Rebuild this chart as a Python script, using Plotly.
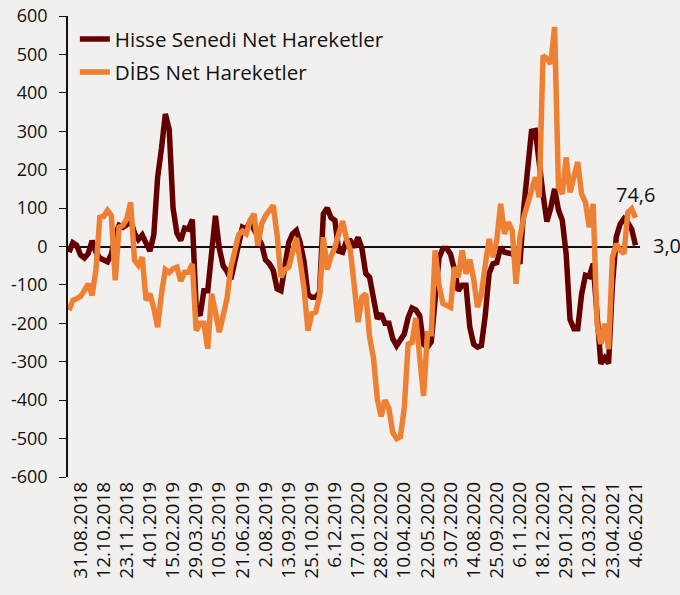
import pandas as pd
import plotly.graph_objects as go

# Weekly dates (Fridays), first observation 10.08.2018, last 4.06.2021 (148 weeks)
dates = pd.date_range("2018-08-10", periods=148, freq="7D")

hisse = [
    -15, 10, 3, -22, -30, -18, 15, -15, -30, -35,
    -40, -20, 30, 55, 50, 57, 68, 35, 18, 30,
    5, -12, 30, 180, 255, 345, 305, 100, 35, 16,
    48, 45, 70, -160, -180, -115, -115, -20, 80, -5,
    -50, -65, -85, -40, 0, 50, 45, 65, 45, 25,
    5, -35, -45, -62, -110, -115, -50, 10, 33, 42,
    10, -40, -125, -132, -132, -120, 85, 100, 75, 68,
    -12, -15, 15, 15, -2, 24, -5, -70, -80, -140,
    -188, -175, -200, -200, -240, -258, -240, -228, -185, -160,
    -165, -180, -255, -262, -248, -150, -30, -5, -5, -20,
    -60, -115, -101, -101, -210, -254, -262, -258, -180, -70,
    -45, -42, -2, -15, -17, -19, -30, -45, 100, 220,
    300, 302, 205, 135, 65, 100, 150, 95, 68, -20,
    -190, -214, -214, -125, -75, -78, -45, -190, -305, -290,
    -304, -100, 25, 58, 72, 62, 45, 3.0,
]

dibs = [
    -166, -140, -136, -130, -115, -97, -127, -60, 76, 78,
    94, 80, -88, 50, 55, 72, 115, -36, -49, -28,
    -140, -123, -160, -210, -123, -60, -68, -58, -54, -90,
    -67, -67, -45, -219, -200, -200, -266, -123, -171, -223,
    -180, -135, -55, -5, 30, 40, 33, 68, 85, 2,
    59, 80, 95, 107, 30, -80, -60, -54, -15, 22,
    -40, -110, -219, -175, -171, -130, 24, -60, -25, -2,
    33, 66, 20, -10, -100, -197, -132, -123, -236, -290,
    -397, -442, -400, -421, -484, -500, -495, -420, -254, -250,
    -186, -280, -389, -227, -227, -10, -100, -148, -155, -158,
    -54, -80, -10, -71, -34, -85, -158, -123, -50, 20,
    -28, 16, 111, 33, 63, 42, -97, 24, 76, 111,
    154, 180, 128, 497, 488, 476, 571, 154, 137, 232,
    141, 189, 220, 137, 115, 50, 111, -201, -254, -201,
    -267, -28, 7, -10, -19, 89, 98, 74.6,
]

tick_labels = [
    "31.08.2018", "12.10.2018", "23.11.2018", "4.01.2019", "15.02.2019",
    "29.03.2019", "10.05.2019", "21.06.2019", "2.08.2019", "13.09.2019",
    "25.10.2019", "6.12.2019", "17.01.2020", "28.02.2020", "10.04.2020",
    "22.05.2020", "3.07.2020", "14.08.2020", "25.09.2020", "6.11.2020",
    "18.12.2020", "29.01.2021", "12.03.2021", "23.04.2021", "4.06.2021",
]
tick_dates = pd.to_datetime(tick_labels, format="%d.%m.%Y")

y_tick_values = [-600, -500, -400, -300, -200, -100, 0, 100, 200, 300, 400, 500, 600]
y_tick_labels = ["-600", "-500", "-400", "-300", "-200", "-100", "0",
                 "100", "200", "300", "400", "500", "600"]

series_names = ["Hisse Senedi Net Hareketler", "DİBS Net Hareketler"]
end_labels = ["3,0", "74,6"]

DARK = "#640000"
ORANGE = "#EE8034"
FONT = "Open Sans"
BG = "#F2F0EF"

fig = go.Figure()
fig.add_trace(go.Scatter(x=dates, y=hisse, mode="lines", name=series_names[0],
                         legendgroup="g1",
                         line=dict(color=DARK, width=5.5)))
fig.add_trace(go.Scatter(x=dates, y=dibs, mode="lines", name=series_names[1],
                         legendgroup="g2",
                         line=dict(color=ORANGE, width=5.5)))

fig.add_annotation(x=dates[-1], y=dibs[-1], text=end_labels[1], showarrow=False,
                   xanchor="center", yanchor="bottom", yshift=8,
                   font=dict(family=FONT, size=20, color="#111111"))
fig.add_annotation(x=dates[-1], y=hisse[-1], text=end_labels[0], showarrow=False,
                   xanchor="left", yanchor="middle", xshift=15,
                   font=dict(family=FONT, size=20, color="#111111"))

fig.update_layout(
    width=680, height=595,
    margin=dict(l=68, r=40, t=16, b=118, autoexpand=False),
    paper_bgcolor=BG, plot_bgcolor=BG,
    font=dict(family=FONT, size=18, color="#111111"),
    showlegend=True,
    legend=dict(x=0.012, y=0.993, xanchor="left", yanchor="top",
                bgcolor="rgba(0,0,0,0)", font=dict(family=FONT, size=20.6),
                itemwidth=30, tracegroupgap=3),
)
fig.update_xaxes(
    type="date", automargin=False,
    range=[dates[0] - pd.Timedelta(hours=43), dates[-1] + pd.Timedelta(days=8.1)],
    tickmode="array", tickvals=tick_dates, ticktext=tick_labels,
    tickangle=-90, showgrid=False, showline=False, zeroline=False, ticks="",
    tickfont=dict(family=FONT, size=19), ticklabeloverflow="allow",
)
fig.update_yaxes(
    range=[-600, 600], automargin=False,
    tickmode="array", tickvals=y_tick_values, ticktext=y_tick_labels,
    showgrid=False, showline=True, linecolor="#111111", linewidth=1.5,
    ticks="outside", ticklen=7, tickcolor="#111111", tickwidth=1.2,
    zeroline=True, zerolinecolor="#111111", zerolinewidth=1.5,
    tickfont=dict(family=FONT, size=18), ticklabelstandoff=8,
    ticklabeloverflow="allow",
)

fig.write_html(
    "out.html",
    config={"displayModeBar": False},
    post_script="document.body.style.margin='0';"
                "document.body.style.background='" + BG + "';",
)
